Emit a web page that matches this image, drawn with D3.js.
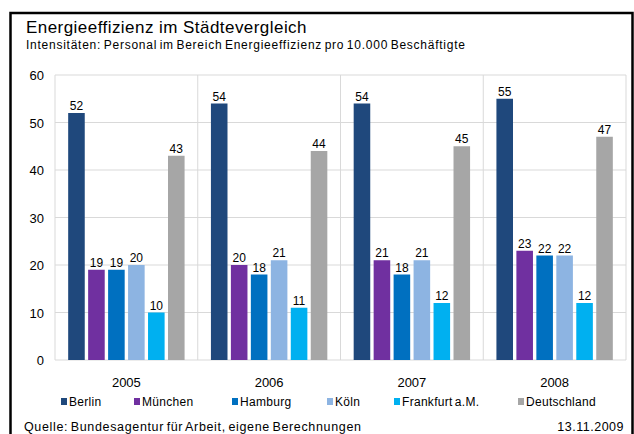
<!DOCTYPE html>
<html>
<head>
  <meta charset="utf-8">
  <style>
    body { margin: 0; background: #fff; }
    text { font-family: "Liberation Sans", Arial, sans-serif; fill: #000; }
  </style>
  <script src="https://d3js.org/d3.v7.min.js"></script>
</head>
<body>
  <div id="chart"></div>
  <script>
    const years = ["2005", "2006", "2007", "2008"];
    const cities = ["Berlin", "München", "Hamburg", "Köln", "Frankfurt a.M.", "Deutschland"];
    const colors = ["#1F487C", "#7030A0", "#0070C0", "#8DB4E2", "#00B0F0", "#A6A6A6"];
    const berlin = [52, 54, 54, 55];
    const muenchen = [19, 20, 21, 23];
    const hamburg = [19, 18, 18, 22];
    const koeln = [20, 21, 21, 22];
    const frankfurt = [10, 11, 12, 12];
    const deutschland = [43, 44, 45, 47];
    const yTicks = [0, 10, 20, 30, 40, 50, 60];

    const series = [berlin, muenchen, hamburg, koeln, frankfurt, deutschland];

    const svg = d3.select("#chart").append("svg")
      .attr("width", 634)
      .attr("height", 434);

    // outer frame (bottom edge runs off the picture)
    svg.append("rect")
      .attr("x", 10.5).attr("y", 13)
      .attr("width", 622).attr("height", 440)
      .attr("fill", "none")
      .attr("stroke", "#000")
      .attr("stroke-width", 2.5);

    svg.append("text")
      .attr("x", 26).attr("y", 33)
      .style("font-size", "17px")
      .style("letter-spacing", "0.45px")
      .text("Energieeffizienz im Städtevergleich");

    svg.append("text")
      .attr("x", 26).attr("y", 49)
      .style("font-size", "12px")
      .style("letter-spacing", "0.75px")
      .style("word-spacing", "-1.5px")
      .text("Intensitäten: Personal im Bereich Energieeffizienz pro 10.000 Beschäftigte");

    const plotL = 55, plotR = 626, plotT = 75, plotB = 360;

    const x = d3.scaleBand().domain(years).range([plotL, plotR]);
    const xInner = d3.scaleBand().domain(cities)
      .range([0, x.bandwidth()])
      .paddingInner(0.17)
      .paddingOuter(0.66);
    const y = d3.scaleLinear().domain([0, 60]).range([plotB, plotT]);

    // grid
    svg.append("g").selectAll("line")
      .data(yTicks)
      .join("line")
      .attr("x1", plotL).attr("x2", plotR)
      .attr("y1", d => y(d)).attr("y2", d => y(d))
      .attr("stroke", "#D9D9D9");

    svg.append("g").selectAll("line")
      .data(years.concat(["end"]))
      .join("line")
      .attr("x1", (d, i) => i < years.length ? x(d) : plotR)
      .attr("x2", (d, i) => i < years.length ? x(d) : plotR)
      .attr("y1", plotT).attr("y2", plotB)
      .attr("stroke", "#D9D9D9");

    // y labels
    svg.append("g").selectAll("text")
      .data(yTicks)
      .join("text")
      .attr("x", 44)
      .attr("y", d => y(d) + 5)
      .attr("text-anchor", "end")
      .style("font-size", "13px")
      .text(d => d);

    // bars
    years.forEach((yr, yi) => {
      const g = svg.append("g").attr("transform", `translate(${x(yr)},0)`);
      const rows = cities.map((c, ci) => ({ city: c, value: series[ci][yi], color: colors[ci] }));
      g.selectAll("rect")
        .data(rows)
        .join("rect")
        .attr("x", d => xInner(d.city))
        .attr("y", d => y(d.value))
        .attr("width", xInner.bandwidth())
        .attr("height", d => plotB - y(d.value))
        .attr("fill", d => d.color);
      g.selectAll("text")
        .data(rows)
        .join("text")
        .attr("x", d => xInner(d.city) + xInner.bandwidth() / 2)
        .attr("y", d => y(d.value) - 3)
        .attr("text-anchor", "middle")
        .style("font-size", "12px")
        .text(d => d.value);
    });

    // category labels
    svg.append("g").selectAll("text")
      .data(years)
      .join("text")
      .attr("x", d => x(d) + x.bandwidth() / 2)
      .attr("y", 387)
      .attr("text-anchor", "middle")
      .style("font-size", "13px")
      .text(d => d);

    // legend
    const legendX = [61, 134, 232, 327, 394, 518];
    const legend = svg.append("g").selectAll("g")
      .data(cities)
      .join("g")
      .attr("transform", (d, i) => `translate(${legendX[i]},0)`);
    legend.append("rect")
      .attr("x", 0).attr("y", 398)
      .attr("width", 6).attr("height", 7)
      .attr("fill", (d, i) => colors[i]);
    legend.append("text")
      .attr("x", 8).attr("y", 406)
      .style("font-size", "12px")
      .style("letter-spacing", "0.3px")
      .style("word-spacing", "-1.5px")
      .text(d => d);

    svg.append("text")
      .attr("x", 24).attr("y", 431)
      .style("font-size", "12.5px")
      .style("letter-spacing", "0.65px")
      .style("word-spacing", "-1.5px")
      .text("Quelle: Bundesagentur für Arbeit, eigene Berechnungen");

    svg.append("text")
      .attr("x", 624).attr("y", 431)
      .attr("text-anchor", "end")
      .style("font-size", "12.5px")
      .style("letter-spacing", "0.5px")
      .text("13.11.2009");
  </script>
</body>
</html>
